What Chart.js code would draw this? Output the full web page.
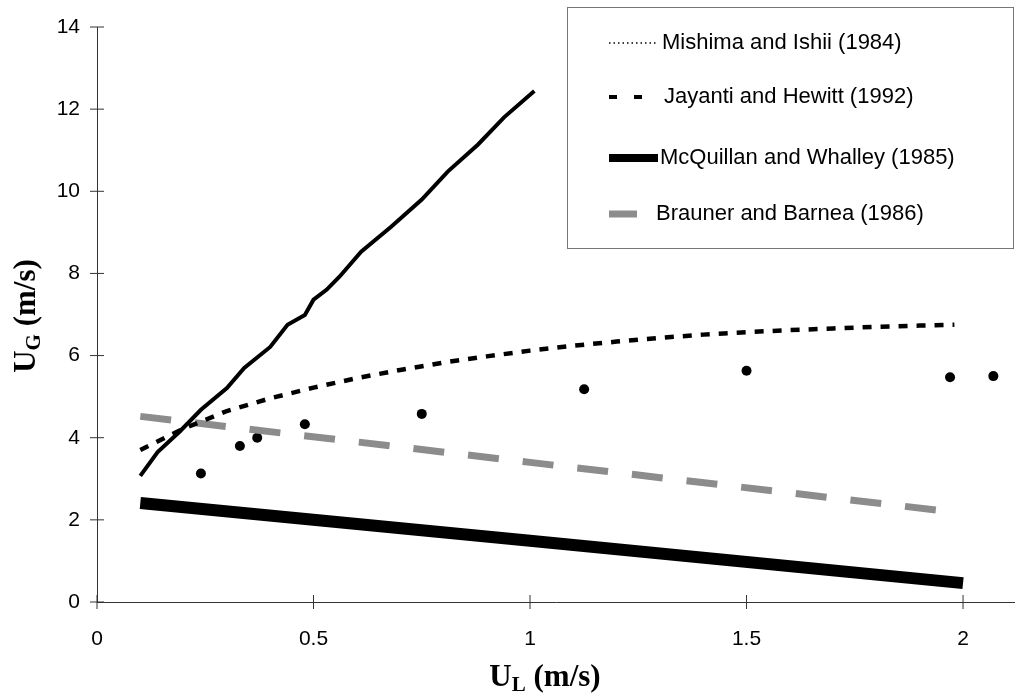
<!DOCTYPE html>
<html>
<head>
<meta charset="utf-8">
<script src="https://cdn.jsdelivr.net/npm/chart.js@4/dist/chart.umd.min.js"></script>
<style>
  body { margin: 0; background: #fff; overflow: hidden; }
</style>
</head>
<body>
<canvas id="chartUG" width="1020" height="694"></canvas>
<script>
// U_L (m/s) vs U_G (m/s)
var mishimaX = [0.1, 0.14, 0.19, 0.24, 0.3, 0.34, 0.4, 0.44, 0.48, 0.5, 0.53, 0.56, 0.61, 0.68, 0.75, 0.81, 0.88, 0.94, 1.01];
var mishimaY = [3.07, 3.65, 4.14, 4.68, 5.21, 5.7, 6.21, 6.75, 6.99, 7.36, 7.6, 7.92, 8.53, 9.14, 9.8, 10.48, 11.14, 11.8, 12.44];

var jayantiX = [0.1, 0.2, 0.3, 0.4, 0.5, 0.6, 0.7, 0.8, 0.9, 1.0, 1.1, 1.2, 1.3, 1.4, 1.5, 1.6, 1.7, 1.8, 1.9, 1.98];
var jayantiY = [3.7, 4.22, 4.65, 4.96, 5.22, 5.45, 5.65, 5.83, 5.98, 6.12, 6.24, 6.34, 6.43, 6.51, 6.57, 6.62, 6.66, 6.7, 6.73, 6.75];

var mcquillanX = [0.1, 1.0, 2.0];
var mcquillanY = [2.41, 1.49, 0.46];

var braunerX = [0.1, 1.0, 1.97];
var braunerY = [4.52, 3.4, 2.2];

var measuredX = [0.24, 0.33, 0.37, 0.48, 0.75, 1.125, 1.5, 1.97, 2.07];
var measuredY = [3.13, 3.8, 4.0, 4.33, 4.58, 5.18, 5.63, 5.47, 5.5];

var seriesLabels = ['Mishima and Ishii (1984)', 'Jayanti and Hewitt (1992)', 'McQuillan and Whalley (1985)', 'Brauner and Barnea (1986)'];

function pts(xs, ys) {
    return xs.map(function(x, i) { return {x: x, y: ys[i]}; });
}

var tickFont = {family: '"Liberation Sans", Arial, sans-serif', size: 21};

// cross-shaped tick marks, like the original
var crossTicks = {
    id: 'crossTicks',
    afterDraw: function(chart) {
        var ctx = chart.ctx, xs = chart.scales.x, ys = chart.scales.y;
        var x0 = xs.getPixelForValue(0), y0 = ys.getPixelForValue(0);
        ctx.save();
        ctx.strokeStyle = '#333';
        ctx.lineWidth = 1;
        ctx.beginPath();
        ys.ticks.forEach(function(t) {
            var p = ys.getPixelForValue(t.value);
            ctx.moveTo(x0 - 7, p); ctx.lineTo(x0 + 7, p);
        });
        xs.ticks.forEach(function(t) {
            var p = xs.getPixelForValue(t.value);
            ctx.moveTo(p, y0 - 7); ctx.lineTo(p, y0 + 7);
        });
        ctx.stroke();
        ctx.restore();
    }
};

// axis titles with subscripts
var axisTitles = {
    id: 'axisTitles',
    afterDraw: function(chart) {
        var ctx = chart.ctx;
        function title(sub) {
            var big = 'bold 31px "Liberation Serif", "Times New Roman", serif';
            var small = 'bold 21px "Liberation Serif", "Times New Roman", serif';
            ctx.font = big; var w1 = ctx.measureText('U').width;
            ctx.font = small; var w2 = ctx.measureText(sub).width;
            ctx.font = big; var w3 = ctx.measureText(' (m/s)').width;
            var x = -(w1 + w2 + w3) / 2;
            ctx.fillStyle = '#000';
            ctx.textBaseline = 'alphabetic';
            ctx.textAlign = 'left';
            ctx.font = big; ctx.fillText('U', x, 0);
            ctx.font = small; ctx.fillText(sub, x + w1, 5);
            ctx.font = big; ctx.fillText(' (m/s)', x + w1 + w2, 0);
        }
        ctx.save();
        ctx.translate(545, 686);
        title('L');
        ctx.restore();
        ctx.save();
        ctx.translate(35, 316);
        ctx.rotate(-Math.PI / 2);
        title('G');
        ctx.restore();
    }
};

// boxed legend in the upper right
var boxLegend = {
    id: 'boxLegend',
    afterDraw: function(chart) {
        var ctx = chart.ctx;
        var left = 567, top = 7, right = 1013, bottom = 248;
        var rows = [43, 97, 158, 214];
        ctx.save();
        ctx.strokeStyle = '#777';
        ctx.lineWidth = 1;
        ctx.strokeRect(left + 0.5, top + 0.5, right - left, bottom - top);

        ctx.strokeStyle = '#000';
        ctx.lineCap = 'butt';
        // dotted
        ctx.lineWidth = 1.5;
        ctx.setLineDash([1.5, 3]);
        ctx.beginPath(); ctx.moveTo(609, rows[0]); ctx.lineTo(658, rows[0]); ctx.stroke();
        // dashed
        ctx.lineWidth = 4;
        ctx.setLineDash([8, 17]);
        ctx.beginPath(); ctx.moveTo(609, rows[1]); ctx.lineTo(642, rows[1]); ctx.stroke();
        // thick solid
        ctx.setLineDash([]);
        ctx.lineWidth = 8;
        ctx.beginPath(); ctx.moveTo(609, rows[2]); ctx.lineTo(658, rows[2]); ctx.stroke();
        // grey
        ctx.strokeStyle = '#8c8c8c';
        ctx.lineWidth = 7;
        ctx.beginPath(); ctx.moveTo(609, rows[3]); ctx.lineTo(637, rows[3]); ctx.stroke();

        ctx.fillStyle = '#000';
        ctx.font = '22px "Liberation Sans", Arial, sans-serif';
        ctx.textBaseline = 'middle';
        ctx.textAlign = 'left';
        var textX = [662, 664, 660, 656];
        seriesLabels.forEach(function(lab, i) { ctx.fillText(lab, textX[i], rows[i]); });
        ctx.restore();
    }
};

var ctx = document.getElementById('chartUG');
var myChart = new Chart(ctx, {
    type: 'line',
    data: {
        datasets: [{
            label: seriesLabels[0],
            data: pts(mishimaX, mishimaY),
            borderColor: '#000000',
            borderWidth: 4,
            pointRadius: 0
        }, {
            label: seriesLabels[1],
            data: pts(jayantiX, jayantiY),
            borderColor: '#000000',
            borderWidth: 4.5,
            borderDash: [9, 9],
            pointRadius: 0
        }, {
            label: seriesLabels[2],
            data: pts(mcquillanX, mcquillanY),
            borderColor: '#000000',
            borderWidth: 12,
            borderCapStyle: 'butt',
            pointRadius: 0
        }, {
            label: seriesLabels[3],
            data: pts(braunerX, braunerY),
            borderColor: '#8c8c8c',
            borderWidth: 7,
            borderDash: [31, 24],
            pointRadius: 0
        }, {
            label: 'Data',
            data: pts(measuredX, measuredY),
            showLine: false,
            pointRadius: 5,
            pointBackgroundColor: '#000000',
            pointBorderWidth: 0
        }]
    },
    options: {
        responsive: false,
        animation: false,
        layout: {padding: {top: 27, right: 0, left: 0, bottom: 0}},
        plugins: {
            legend: {display: false},
            tooltip: {enabled: false}
        },
        scales: {
            x: {
                type: 'linear',
                min: 0,
                max: 2.12,
                afterFit: function(s) { s.height = 92; },
                grid: {display: false},
                border: {display: true, color: '#333', width: 1},
                ticks: {
                    stepSize: 0.5, includeBounds: false, padding: 17, color: '#000', font: tickFont, maxRotation: 0,
                    callback: function(v) { return String(v); }
                }
            },
            y: {
                min: 0,
                max: 14,
                afterFit: function(s) { s.width = 97; },
                grid: {display: false},
                border: {display: true, color: '#333', width: 1},
                ticks: {stepSize: 2, padding: 9, color: '#000', font: tickFont}
            }
        }
    },
    plugins: [crossTicks, axisTitles, boxLegend]
});
</script>
</body>
</html>
